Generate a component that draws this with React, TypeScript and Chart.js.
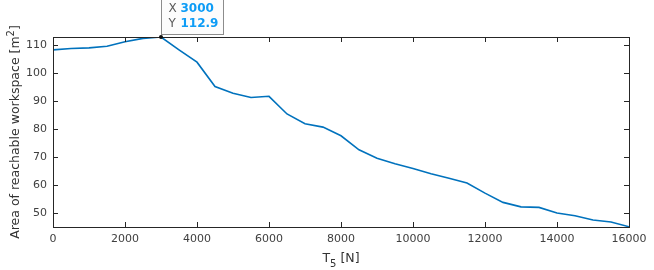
import React, { useEffect, useRef } from "react";
import { Chart, registerables } from "chart.js";

Chart.register(...registerables);

const forces = [0, 500, 1000, 1500, 2000, 2500, 3000, 3500, 4000, 4500, 5000, 5500, 6000, 6500, 7000, 7500, 8000, 8500, 9000, 9500, 10000, 10500, 11000, 11500, 12000, 12500, 13000, 13500, 14000, 14500, 15000, 15500, 16000];
const areas = [108.3, 108.8, 109.0, 109.6, 111.2, 112.4, 112.9, 108.3, 103.9, 95.2, 92.8, 91.3, 91.7, 85.4, 81.9, 80.7, 77.6, 72.6, 69.6, 67.6, 65.9, 64.0, 62.4, 60.7, 57.1, 53.8, 52.2, 52.0, 50.0, 49.0, 47.5, 46.8, 45.1];
const xTicks = [0, 2000, 4000, 6000, 8000, 10000, 12000, 14000, 16000];
const yTicks = [50, 60, 70, 80, 90, 100, 110];
const tipX = 3000;
const tipY = 112.9;

const FONT = "'DejaVu Sans', sans-serif";
const AXIS = "#262626";

const matlabPlugin = {
  id: "matlabAxes",
  afterDatasetsDraw(chart: any) {
    const { ctx, chartArea: a, scales } = chart;
    const xs = scales.x;
    const ys = scales.y;
    ctx.save();
    ctx.strokeStyle = AXIS;
    ctx.lineWidth = 1;
    ctx.strokeRect(Math.round(a.left) + 0.5, Math.round(a.top) + 0.5, Math.round(a.right - a.left), Math.round(a.bottom - a.top));
    const tl = 5;
    ctx.beginPath();
    xTicks.forEach((v) => {
      const px = Math.round(xs.getPixelForValue(v)) + 0.5;
      ctx.moveTo(px, a.bottom);
      ctx.lineTo(px, a.bottom - tl);
      ctx.moveTo(px, a.top);
      ctx.lineTo(px, a.top + tl);
    });
    yTicks.forEach((v) => {
      const py = Math.round(ys.getPixelForValue(v)) + 0.5;
      ctx.moveTo(a.left, py);
      ctx.lineTo(a.left + tl, py);
      ctx.moveTo(a.right, py);
      ctx.lineTo(a.right - tl, py);
    });
    ctx.stroke();

    ctx.fillStyle = "#333333";
    const main = "12.5px " + FONT;
    const sub = "10px " + FONT;
    ctx.font = main;
    const wT = ctx.measureText("T").width;
    const wN = ctx.measureText(" [N]").width;
    ctx.font = sub;
    const w5 = ctx.measureText("5").width;
    const cx = (a.left + a.right) / 2;
    const x0 = cx - (wT + w5 + wN) / 2;
    const base = 261.5;
    ctx.textAlign = "left";
    ctx.textBaseline = "alphabetic";
    ctx.font = main;
    ctx.fillText("T", x0, base);
    ctx.font = sub;
    ctx.fillText("5", x0 + wT, base + 5);
    ctx.font = main;
    ctx.fillText(" [N]", x0 + wT + w5, base);

    const yt1 = "Area of reachable workspace [m";
    const yt2 = "2";
    const yt3 = "]";
    ctx.font = main;
    const w1 = ctx.measureText(yt1).width;
    const w3 = ctx.measureText(yt3).width;
    ctx.font = sub;
    const w2 = ctx.measureText(yt2).width;
    ctx.translate(19, (a.top + a.bottom) / 2);
    ctx.rotate(-Math.PI / 2);
    const s = -(w1 + w2 + w3) / 2;
    ctx.font = main;
    ctx.fillText(yt1, s, 0);
    ctx.font = sub;
    ctx.fillText(yt2, s + w1, -5);
    ctx.font = main;
    ctx.fillText(yt3, s + w1 + w2, 0);
    ctx.setTransform(1, 0, 0, 1, 0, 0);
    ctx.restore();

    ctx.save();
    const px = xs.getPixelForValue(tipX);
    const py = ys.getPixelForValue(tipY);
    const bx = Math.round(px) + 0.5;
    const bBottom = Math.round(py) - 2.5;
    const bw = 62;
    const bTop = -5;
    ctx.fillStyle = "rgba(252,252,252,0.97)";
    ctx.fillRect(bx, bTop, bw, bBottom - bTop);
    ctx.strokeStyle = "#8c8c8c";
    ctx.lineWidth = 1;
    ctx.strokeRect(bx, bTop, bw, bBottom - bTop);
    ctx.textAlign = "left";
    ctx.textBaseline = "alphabetic";
    ctx.font = "12px " + FONT;
    ctx.fillStyle = "#5a5a5a";
    ctx.fillText("X", bx + 7, 12);
    ctx.fillText("Y", bx + 7, 27);
    ctx.font = "bold 12px " + FONT;
    ctx.fillStyle = "#0d9cf6";
    ctx.fillText(String(tipX), bx + 19, 12);
    ctx.fillText(tipY.toFixed(1), bx + 19, 27);
    ctx.fillStyle = "#111111";
    ctx.beginPath();
    ctx.arc(px, py, 2, 0, Math.PI * 2);
    ctx.fill();
    ctx.restore();
  },
};

export default function App() {
  const ref = useRef<HTMLCanvasElement | null>(null);
  useEffect(() => {
    if (!ref.current) return;
    const chart = new Chart(ref.current, {
      type: "line",
      data: {
        datasets: [
          {
            data: forces.map((f, i) => ({ x: f, y: areas[i] })),
            borderColor: "#0072BD",
            borderWidth: 1.6,
            pointRadius: 0,
            tension: 0,
            fill: false,
          },
        ],
      },
      options: {
        animation: false,
        responsive: false,
        devicePixelRatio: 1,
        layout: { padding: { top: 37, right: 25, left: 0, bottom: 0 } },
        plugins: { legend: { display: false }, tooltip: { enabled: false } },
        scales: {
          x: {
            type: "linear",
            min: 0,
            max: 16000,
            grid: { display: false, drawTicks: false },
            border: { display: false },
            afterBuildTicks: (axis: any) => {
              axis.ticks = xTicks.map((v) => ({ value: v }));
            },
            afterFit: (s: any) => {
              s.height = 43;
            },
            ticks: {
              padding: 6,
              maxRotation: 0,
              autoSkip: false,
              color: "#404040",
              font: { family: FONT, size: 11 },
              callback: (v: any) => String(v),
            },
          },
          y: {
            type: "linear",
            min: 45,
            max: 112.9,
            grid: { display: false, drawTicks: false },
            border: { display: false },
            afterBuildTicks: (axis: any) => {
              axis.ticks = yTicks.map((v) => ({ value: v }));
            },
            afterFit: (s: any) => {
              s.width = 53;
            },
            ticks: {
              padding: 6,
              autoSkip: false,
              color: "#404040",
              font: { family: FONT, size: 11 },
              callback: (v: any) => String(v),
            },
          },
        },
      },
      plugins: [matlabPlugin],
    });
    return () => chart.destroy();
  }, []);
  return (
    <div style={{ position: "absolute", left: 0, top: 0, width: 654, height: 270, background: "#fff" }}>
      <canvas ref={ref} width={654} height={270} />
    </div>
  );
}
